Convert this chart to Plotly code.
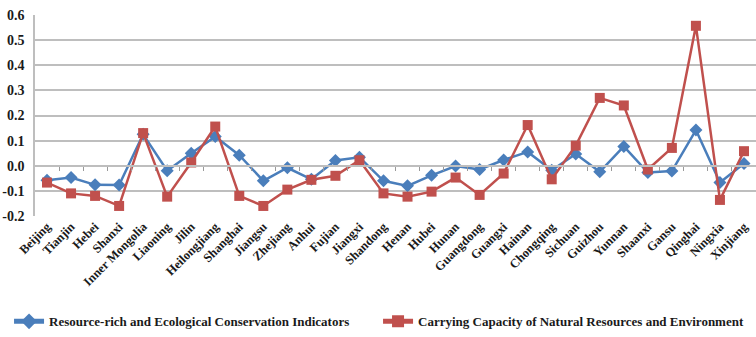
import plotly.graph_objects as go

provinces = ["Beijing", "Tianjin", "Hebei", "Shanxi", "Inner Mongolia", "Liaoning", "Jilin",
             "Heilongjiang", "Shanghai", "Jiangsu", "Zhejiang", "Anhui", "Fujian", "Jiangxi",
             "Shandong", "Henan", "Hubei", "Hunan", "Guangdong", "Guangxi", "Hainan",
             "Chongqing", "Sichuan", "Guizhou", "Yunnan", "Shaanxi", "Gansu", "Qinghai",
             "Ningxia", "Xinjiang"]

resource_rich = [-0.058, -0.047, -0.076, -0.077, 0.125, -0.020, 0.050, 0.116, 0.042, -0.060,
                 -0.008, -0.054, 0.021, 0.034, -0.060, -0.080, -0.038, -0.001, -0.015, 0.023,
                 0.055, -0.018, 0.047, -0.024, 0.077, -0.027, -0.021, 0.142, -0.067, 0.009]

carrying_capacity = [-0.067, -0.110, -0.120, -0.160, 0.130, -0.123, 0.013, 0.156, -0.120, -0.160,
                     -0.095, -0.056, -0.040, 0.022, -0.110, -0.123, -0.103, -0.047, -0.116, -0.031,
                     0.162, -0.054, 0.080, 0.270, 0.240, -0.015, 0.071, 0.557, -0.136, 0.058]

y_ticks = [0.6, 0.5, 0.4, 0.3, 0.2, 0.1, 0.0, -0.1, -0.2]
y_tick_text = ["0.6", "0.5", "0.4", "0.3", "0.2", "0.1", "0.0", "-0.1", "-0.2"]

BLUE = "#4A7EBB"
RED = "#C0504D"
GRID = "#BEBEBE"
FONT = "Liberation Serif"
TEXT = "#1a1a1a"

fig = go.Figure()

fig.add_trace(go.Scatter(
    x=provinces, y=resource_rich, mode="lines+markers",
    name="Resource-rich and Ecological Conservation Indicators",
    line=dict(color=BLUE, width=2.5),
    marker=dict(symbol="diamond", size=10, color=BLUE),
))
fig.add_trace(go.Scatter(
    x=provinces, y=carrying_capacity, mode="lines+markers",
    name="Carrying Capacity of Natural Resources and Environment",
    line=dict(color=RED, width=2.5),
    marker=dict(symbol="square", size=10, color=RED),
))

# helper trace so the category axis crossing at zero gets drawn
n = len(provinces)
fig.add_trace(go.Scatter(
    x=[-0.5, n - 0.5], y=[0, 0], xaxis="x2", mode="lines",
    line=dict(width=0), showlegend=False, hoverinfo="skip",
))

y_min, y_max = -0.2, 0.6

fig.update_layout(
    template="none",
    width=756, height=337,
    margin=dict(l=35, r=0, t=15, b=118),
    plot_bgcolor="white", paper_bgcolor="white",
    font=dict(family=FONT, size=12, color=TEXT),
    showlegend=True,
    legend=dict(
        orientation="h", x=-0.036, xanchor="left", y=-0.5245, yanchor="middle",
        font=dict(family=FONT, size=13, color=TEXT, weight="bold"),
        itemsizing="constant", entrywidth=324, entrywidthmode="pixels",
        bgcolor="rgba(0,0,0,0)", borderwidth=0,
    ),
    xaxis=dict(
        type="category", range=[-0.5, n - 0.5], automargin=False,
        tickangle=-45, ticks="", showgrid=False, showline=False, zeroline=False,
        tickfont=dict(family=FONT, size=12.5, color=TEXT, weight="bold"),
    ),
    xaxis2=dict(
        overlaying="x", anchor="free", position=(0 - y_min) / (y_max - y_min),
        range=[-0.5, n - 0.5], tickmode="array", automargin=False,
        tickvals=[i + 0.5 for i in range(n - 1)],
        ticks="outside", ticklen=4, tickwidth=1, tickcolor="#9a9a9a",
        showticklabels=False, showgrid=False, showline=True,
        linecolor=GRID, linewidth=1.5, zeroline=False,
    ),
    yaxis=dict(
        range=[y_min, y_max], tickmode="array", tickvals=y_ticks, ticktext=y_tick_text,
        automargin=False,
        showgrid=True, gridcolor=GRID, gridwidth=1.5,
        zeroline=False, showline=True, linecolor=GRID, linewidth=1.5,
        ticks="", ticklabelstandoff=6,
        tickfont=dict(family=FONT, size=14, color=TEXT, weight="bold"),
    ),
)

fig.write_html("out.html")
